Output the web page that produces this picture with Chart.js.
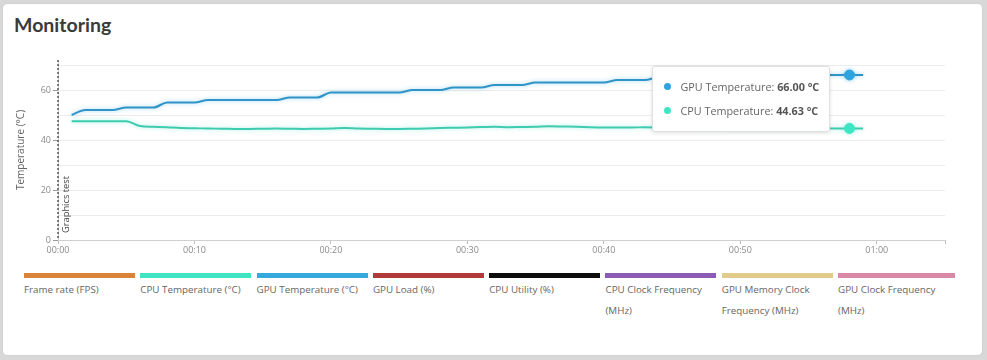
<!DOCTYPE html>
<html>
<head>
<meta charset="utf-8">
<script src="https://cdn.jsdelivr.net/npm/chart.js@4.4.1/dist/chart.umd.min.js"></script>
<style>
  html, body { margin: 0; padding: 0; }
  body { width: 987px; height: 360px; background: #d8d8d8; position: relative; overflow: hidden; font-family: "Open Sans", sans-serif; }
  #card { position: absolute; left: 3px; top: 4px; width: 979px; height: 351px; background: #fff; border-radius: 4px; box-shadow: 0 0 1px rgba(0,0,0,0.25); }
  #title { position: absolute; left: 14px; top: 13px; font-family: Lato, sans-serif; font-weight: 700; font-size: 19.5px; color: #3a3a3a; }
  #wrap { position: absolute; left: 0; top: 0; width: 987px; height: 265px; }
  #legend { position: absolute; left: 24px; top: 273px; display: flex; gap: 5.3px; }
  .li { width: 111px; }
  .li:last-child { width: 117px; }
  .li .bar { height: 5px; }
  .li .txt { font-size: 9.8px; line-height: 21px; color: #666; margin-top: 1px; }
  #tip { position: absolute; background: #fff; border: 1px solid #e0e0e0; border-radius: 3px; box-shadow: 0 1px 4px rgba(0,0,0,0.12); padding: 8px 0 8px 0; font-size: 10.8px; color: #666; white-space: nowrap; box-sizing: border-box; }
  #tip .row { height: 24px; line-height: 24px; position: relative; padding-left: 27px; padding-right: 10px; }
  #tip .dot { position: absolute; left: 11px; top: 8.5px; width: 7px; height: 7px; border-radius: 50%; }
  #tip b { font-weight: 700; color: #555; }
</style>
</head>
<body>
<div id="card"></div>
<div id="title">Monitoring</div>
<div id="wrap"><canvas id="c"></canvas></div>
<div id="legend"></div>
<div id="tip"></div>
<script>
// ---- data ----
const seconds = [1,2,3,4,5,6,7,8,9,10,11,12,13,14,15,16,17,18,19,20,21,22,23,24,25,26,27,28,29,30,31,32,33,34,35,36,37,38,39,40,41,42,43,44,45,46,47,48,49,50,51,52,53,54,55,56,57,58,59];
const gpuTemp = [50,52,52,52,53,53,53,55,55,55,56,56,56,56,56,56,57,57,57,59,59,59,59,59,59,60,60,60,61,61,61,62,62,62,63,63,63,63,63,63,64,64,64,65,65,65,65,65,65,66,66,66,66,66,66,66,66,66,66];
const cpuTemp = [47.5,47.5,47.5,47.5,47.5,45.6,45.3,45.1,44.8,44.7,44.6,44.5,44.4,44.4,44.5,44.6,44.5,44.4,44.5,44.6,44.8,44.6,44.5,44.4,44.4,44.5,44.6,44.8,44.9,45.0,45.2,45.3,45.1,45.2,45.3,45.5,45.4,45.3,45.1,45.0,45.0,45.0,45.1,45.0,44.9,44.9,44.8,44.8,44.7,44.7,44.7,44.6,44.7,44.6,44.6,44.7,44.6,44.63,44.6];
const seriesLabels = ["Frame rate (FPS)","CPU Temperature (°C)","GPU Temperature (°C)","GPU Load (%)","CPU Utility (%)","CPU Clock Frequency (MHz)","GPU Memory Clock Frequency (MHz)","GPU Clock Frequency (MHz)"];
const tooltipNames = {1: "CPU Temperature", 2: "GPU Temperature"};
const yTickValues = [0,10,20,30,40,50,60,70];
const xTickValues = [0,10,20,30,40,50,60,65];
const markerLabel = "Graphics test";
const markerTime = 0;
const hoverIndex = 57;

// ---- styles ----
const legendColors = ["#d98438","#40e3c2","#36a9dc","#b23a3a","#0d0d0d","#8c5bb4","#e1cc8c","#d988a5"];
const lineColors = {1: "#3fcbaf", 2: "#2f94c8"};
const glowColors = {1: "rgba(64,227,194,0.45)", 2: "rgba(54,169,220,0.45)"};
const pointColors = {1: "#3fe6c4", 2: "#2ea3de"};

function pts(vals) { return seconds.map((s, i) => ({x: s, y: vals[i]})); }
const seriesData = [[], pts(cpuTemp), pts(gpuTemp), [], [], [], [], []];

const datasets = seriesLabels.map((lab, i) => ({
  label: lab,
  data: seriesData[i],
  borderColor: lineColors[i] || legendColors[i],
  backgroundColor: legendColors[i],
  borderWidth: 2,
  pointRadius: 0,
  pointHoverRadius: 5,
  pointBackgroundColor: pointColors[i] || legendColors[i],
  pointBorderColor: pointColors[i] || legendColors[i],
  pointHoverBackgroundColor: pointColors[i] || legendColors[i],
  pointHoverBorderColor: pointColors[i] || legendColors[i],
  pointHoverBorderWidth: 1,
  cubicInterpolationMode: 'monotone',
  tension: 0.4,
  fill: false
}));

const glowPlugin = {
  id: 'glow',
  beforeDatasetDraw(chart, args) {
    const ctx = chart.ctx; ctx.save();
    const g = glowColors[args.index];
    if (g) { ctx.shadowColor = g; ctx.shadowBlur = 4; }
  },
  afterDatasetDraw(chart) { chart.ctx.restore(); }
};

const markerPlugin = {
  id: 'marker',
  afterDraw(chart) {
    const ctx = chart.ctx, x = chart.scales.x.getPixelForValue(markerTime), a = chart.chartArea;
    ctx.save();
    ctx.strokeStyle = '#555'; ctx.lineWidth = 1.5; ctx.setLineDash([2, 2]);
    ctx.beginPath(); ctx.moveTo(x, a.top); ctx.lineTo(x, a.bottom); ctx.stroke();
    ctx.setLineDash([]);
    ctx.translate(x + 8, a.bottom - 7); ctx.rotate(-Math.PI / 2);
    ctx.font = '9.3px "Open Sans"'; ctx.fillStyle = '#444'; ctx.textAlign = 'left'; ctx.textBaseline = 'middle';
    ctx.fillText(markerLabel, 0, 0);
    ctx.restore();
  }
};

function fmt(v) { const m = Math.floor(v / 60), s = v % 60; return String(m).padStart(2, '0') + ':' + String(s).padStart(2, '0'); }

function externalTip(context) {
  const tip = context.tooltip, el = document.getElementById('tip');
  if (!tip || tip.opacity === 0 || !tip.dataPoints) { el.style.display = 'none'; return; }
  const items = tip.dataPoints.slice().sort((a, b) => b.datasetIndex - a.datasetIndex);
  el.innerHTML = items.map(it => '<div class="row"><span class="dot" style="background:' + pointColors[it.datasetIndex] + '"></span>' +
    tooltipNames[it.datasetIndex] + ': <b>' + it.parsed.y.toFixed(2) + ' °C</b></div>').join('');
  el.style.display = 'block';
  const w = el.offsetWidth, h = el.offsetHeight;
  const canvas = context.chart.canvas.getBoundingClientRect();
  el.style.left = (canvas.left + tip.caretX - 19 - w) + 'px';
  el.style.top = (canvas.top + tip.caretY - h / 2 - 3) + 'px';
}

const chart = new Chart(document.getElementById('c'), {
  type: 'line',
  data: { datasets },
  options: {
    responsive: true, maintainAspectRatio: false, animation: false,
    layout: { padding: { top: 60, right: 42, left: 0, bottom: 0 } },
    interaction: { mode: 'index', intersect: false },
    plugins: {
      legend: { display: false },
      tooltip: { enabled: false, external: externalTip, position: 'average' }
    },
    scales: {
      x: {
        type: 'linear', min: 0, max: 65,
        afterBuildTicks(s) { s.ticks = xTickValues.map(v => ({value: v})); },
        afterFit(s) { s.height = 25; },
        border: { color: '#cfcfcf' },
        grid: { drawOnChartArea: false, tickLength: 4, tickColor: '#bdbdbd' },
        ticks: { color: '#8a8a8a', font: { family: 'Open Sans', size: 9 }, padding: 1, maxRotation: 0,
          callback: v => v % 10 === 0 ? fmt(v) : '' }
      },
      y: {
        min: 0, max: 72,
        afterBuildTicks(s) { s.ticks = yTickValues.map(v => ({value: v})); },
        afterFit(s) { s.width = 58; },
        border: { color: '#cfcfcf' },
        grid: { color: ctx => ctx.tick && ctx.tick.value === 0 ? 'transparent' : '#ececec', tickLength: 5,
          tickColor: ctx => ctx.tick && ctx.tick.value % 20 === 0 ? '#9a9a9a' : 'transparent' },
        ticks: { color: '#8a8a8a', font: { family: 'Open Sans', size: 9 }, padding: 2,
          callback: v => v % 20 === 0 ? String(v) : '' },
        title: { display: true, text: 'Temperature (°C)', color: '#666', font: { family: 'Open Sans', size: 10 }, padding: { top: 15, bottom: 0 } }
      }
    }
  },
  plugins: [glowPlugin, markerPlugin]
});

// legend built from the chart's datasets
document.getElementById('legend').innerHTML = chart.data.datasets.map(d =>
  '<div class="li"><div class="bar" style="background:' + d.backgroundColor + '"></div><div class="txt">' + d.label + '</div></div>').join('');

// hover state as in the reference (GPU first, then CPU)
const active = [{datasetIndex: 2, index: hoverIndex}, {datasetIndex: 1, index: hoverIndex}];
chart.setActiveElements(active);
const m2 = chart.getDatasetMeta(2).data[hoverIndex];
chart.tooltip.setActiveElements(active, {x: m2.x, y: m2.y});
chart.update();
</script>
</body>
</html>
